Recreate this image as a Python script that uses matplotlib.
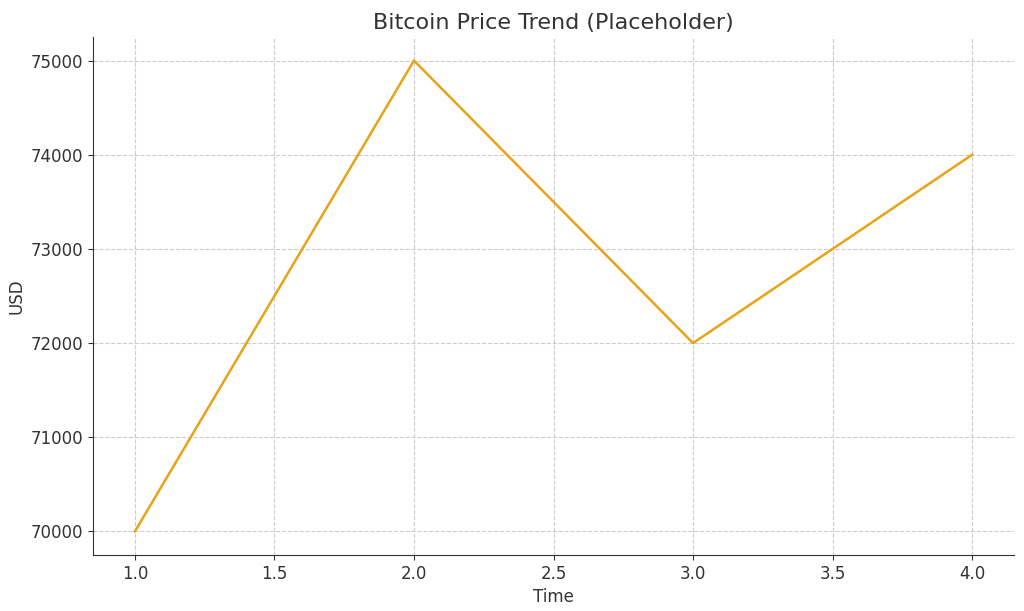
import matplotlib
matplotlib.use("Agg")
import matplotlib.pyplot as plt

plt.rcParams['font.family'] = ['DejaVu Sans']

time = [1, 2, 3, 4]
price = [70000, 75000, 72000, 74000]

fig = plt.figure(figsize=(10.24, 6.11), dpi=100)
ax = fig.add_axes([93/1024, 1-555/611, (1014-93)/1024, (555-37)/611])
ax.plot(time, price, color="#E8A317", linewidth=1.8)
ax.set_title("Bitcoin Price Trend (Placeholder)", fontsize=16, color="#333333")
ax.set_xlabel("Time", fontsize=12, color="#333333")
ax.set_ylabel("USD", fontsize=12, color="#333333")
ax.tick_params(labelsize=12, colors="#333333")
ax.grid(True, linestyle="--", color="#cccccc", linewidth=0.8)
ax.spines["top"].set_visible(False)
ax.spines["right"].set_visible(False)
ax.spines["left"].set_color("#333333")
ax.spines["bottom"].set_color("#333333")
ax.set_xticks([1.0, 1.5, 2.0, 2.5, 3.0, 3.5, 4.0])
ax.set_yticks([70000, 71000, 72000, 73000, 74000, 75000])
ax.set_xlim(0.85, 4.15)
ax.set_ylim(69750, 75250)
fig.savefig("out.png", dpi=100)
